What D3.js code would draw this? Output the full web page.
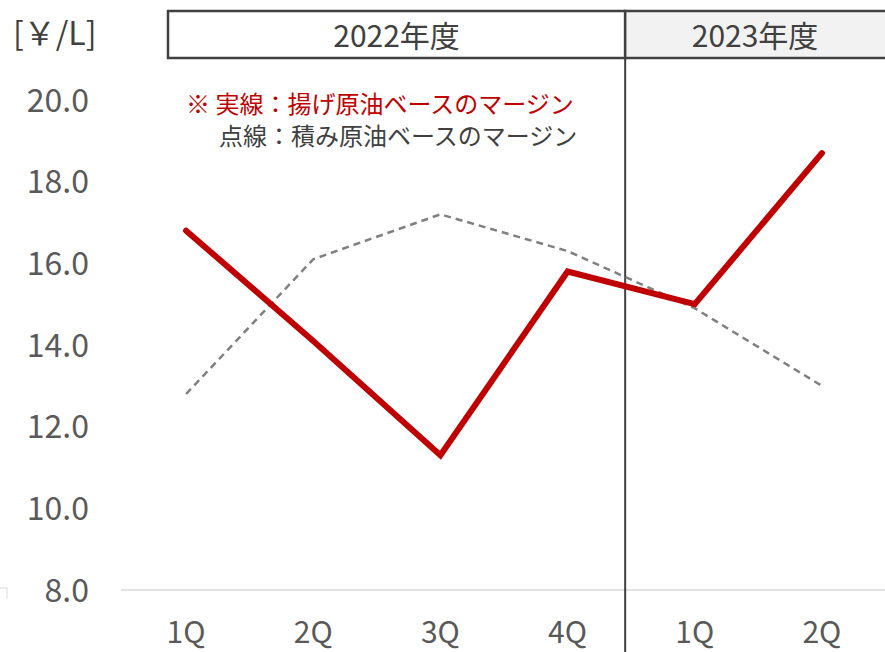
<!DOCTYPE html>
<html>
<head>
<meta charset="utf-8">
<script src="https://cdn.jsdelivr.net/npm/d3@7"></script>
<style>
  body { margin: 0; background: #fff; }
  svg { display: block; font-family: "Noto Sans CJK JP", "Noto Sans", sans-serif; }
</style>
</head>
<body>
<svg id="chart" width="885" height="652"></svg>
<script>
// quarters and fiscal years
var quarters = ['2022-1Q', '2022-2Q', '2022-3Q', '2022-4Q', '2023-1Q', '2023-2Q'];
var quarterLabels = ['1Q', '2Q', '3Q', '4Q', '1Q', '2Q'];
var fiscalYears = ['2022年度', '2023年度'];
// margin [yen/L]
var landedMargin = [16.8, 14.1, 11.3, 15.8, 15.0, 18.7];   // solid red
var loadedMargin = [12.8, 16.1, 17.2, 16.3, 14.9, 13.0];   // dashed gray
var yTicks = [8, 10, 12, 14, 16, 18, 20];

var RED = '#c00000';
var GRAY = '#808080';
var TEXT = '#595959';
var DARK = '#404040';

var svg = d3.select('#chart');
var width = 885, height = 652;

var x = d3.scaleBand().domain(quarters).range([122.5, 885.5]);
var y = d3.scaleLinear().domain([8, 20]).range([590, 100]);
var cx = function (d) { return x(d) + x.bandwidth() / 2; };

// baseline gridline
svg.append('line')
    .attr('x1', 121).attr('x2', width)
    .attr('y1', y(8)).attr('y2', y(8))
    .attr('stroke', '#d9d9d9').attr('stroke-width', 1.5);

// small leftover corner at the left edge
svg.append('path')
    .attr('d', 'M0,' + (y(8) - 2) + 'H7V' + (y(8) + 8))
    .attr('fill', 'none').attr('stroke', '#d9d9d9').attr('stroke-width', 1);

// y tick labels
svg.append('g').selectAll('text').data(yTicks).enter().append('text')
    .attr('x', 89).attr('y', function (d) { return y(d); })
    .attr('dy', '0.36em')
    .attr('text-anchor', 'end')
    .attr('fill', TEXT).attr('font-size', 32)
    .text(function (d) { return d.toFixed(1); });

// unit
svg.append('text')
    .attr('x', 13).attr('y', 33).attr('dy', '0.36em')
    .attr('fill', DARK).attr('font-size', 32)
    .text('[￥/L]');

// x tick labels
svg.append('g').selectAll('text').data(quarters).enter().append('text')
    .attr('x', cx).attr('y', 632).attr('dy', '0.36em')
    .attr('text-anchor', 'middle')
    .attr('fill', TEXT).attr('font-size', 30)
    .text(function (d, i) { return quarterLabels[i]; });

// fiscal year header boxes
var divX = x(quarters[4]) - 6;
var boxes = [
    { label: fiscalYears[0], x0: 168, x1: divX, fill: '#ffffff' },
    { label: fiscalYears[1], x0: divX, x1: width + 4, fill: '#f2f2f2' }
];
var hdr = svg.append('g');
hdr.selectAll('rect').data(boxes).enter().append('rect')
    .attr('x', function (d) { return d.x0; }).attr('y', 11)
    .attr('width', function (d) { return d.x1 - d.x0; }).attr('height', 47)
    .attr('fill', function (d) { return d.fill; })
    .attr('stroke', DARK).attr('stroke-width', 2.5);
hdr.selectAll('text').data(boxes).enter().append('text')
    .attr('x', function (d) { return (d.x0 + Math.min(d.x1, width)) / 2; })
    .attr('y', 36).attr('dy', '0.36em')
    .attr('text-anchor', 'middle')
    .attr('fill', DARK).attr('font-size', 30)
    .text(function (d) { return d.label; });

// fiscal year divider
svg.append('line')
    .attr('x1', divX).attr('x2', divX)
    .attr('y1', 58).attr('y2', height)
    .attr('stroke', DARK).attr('stroke-width', 2);

var line = d3.line()
    .x(function (d, i) { return cx(quarters[i]); })
    .y(function (d) { return y(d); });

svg.append('path').datum(loadedMargin)
    .attr('d', line)
    .attr('fill', 'none').attr('stroke', GRAY)
    .attr('stroke-width', 2.5).attr('stroke-dasharray', '7,5');

svg.append('path').datum(landedMargin)
    .attr('d', line)
    .attr('fill', 'none').attr('stroke', RED)
    .attr('stroke-width', 6)
    .attr('stroke-linejoin', 'miter').attr('stroke-linecap', 'round');

// legend note
var note = svg.append('g').attr('font-size', 24);
note.append('text')
    .attr('x', 186).attr('y', 104).attr('dy', '0.36em')
    .attr('fill', RED)
    .text('※ 実線：揚げ原油ベースのマージン');
note.append('text')
    .attr('x', 219).attr('y', 136).attr('dy', '0.36em')
    .attr('fill', DARK)
    .text('点線：積み原油ベースのマージン');
</script>
</body>
</html>
